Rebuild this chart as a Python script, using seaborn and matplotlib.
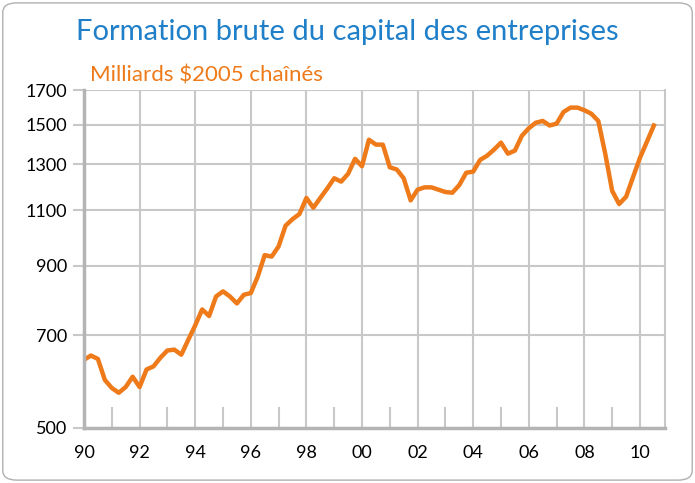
import numpy as np
import pandas as pd
import matplotlib
matplotlib.use("Agg")
import matplotlib.pyplot as plt
import seaborn as sns
from matplotlib.ticker import FixedLocator, NullFormatter, NullLocator
from matplotlib.patches import FancyBboxPatch

start_year = 1990.0
values = [640, 650, 642, 595, 578, 568, 580, 602, 580, 618, 625, 645,
          662, 664, 652, 688, 725, 768, 750, 805, 820, 805, 785, 810,
          815, 865, 935, 930, 965, 1040, 1065, 1085, 1150, 1110, 1150, 1190,
          1235, 1220, 1255, 1325, 1290, 1420, 1395, 1395, 1285, 1275, 1235, 1140,
          1185, 1195, 1195, 1185, 1175, 1172, 1205, 1260, 1265, 1320, 1340, 1370,
          1405, 1350, 1365, 1440, 1480, 1510, 1520, 1495, 1505, 1570, 1595, 1595,
          1580, 1560, 1520, 1350, 1180, 1125, 1155, 1240, 1330, 1410, 1495]
years = [start_year + 0.25 * i for i in range(len(values))]
y_ticks = [500, 700, 900, 1100, 1300, 1500, 1700]
x_ticks = [1990, 1992, 1994, 1996, 1998, 2000, 2002, 2004, 2006, 2008, 2010]
x_labels = ["90", "92", "94", "96", "98", "00", "02", "04", "06", "08", "10"]
minor_years = [1991, 1993, 1995, 1997, 1999, 2001, 2003, 2005, 2007, 2009]

df = pd.DataFrame({"year": years, "value": values})

plt.rcParams["font.family"] = "Lato"
fig = plt.figure(figsize=(6.95, 4.83), dpi=100)
border = FancyBboxPatch((0.004, 0.006), 0.992, 0.988, boxstyle="round,pad=0,rounding_size=0.02",
                        transform=fig.transFigure, facecolor="white", edgecolor="#b0b0b0", lw=1, zorder=-10)
fig.patches.append(border)
ax = fig.add_axes([84/695, 1-428/483, (665-84)/695, (428-90)/483])
ax.set_zorder(5)
ax.set_facecolor("white")
sns.lineplot(data=df, x="year", y="value", ax=ax, color="#ee7a1a", lw=3.2)
ax.set_yscale("log")
ax.set_ylim(500, 1700)
ax.set_xlim(1990, 2010.9)
ax.yaxis.set_major_locator(FixedLocator(y_ticks))
ax.yaxis.set_minor_locator(NullLocator())
ax.yaxis.set_minor_formatter(NullFormatter())
ax.set_yticklabels([str(t) for t in y_ticks])
ax.set_xticks(x_ticks)
ax.set_xticklabels(x_labels)
ax.set_xticks(minor_years, minor=True)
ax.grid(True, which="major", color="#c8c8c8", lw=1.5)
ax.tick_params(axis="y", which="major", length=8, color="#c8c8c8", width=1.5, labelsize=13, pad=4)
ax.tick_params(axis="x", which="major", length=0, labelsize=13, pad=12)
ax.tick_params(axis="x", which="minor", direction="in", length=15, color="#c8c8c8", width=1.5)
ax.spines["top"].set_visible(False)
ax.spines["right"].set_color("#c8c8c8"); ax.spines["right"].set_linewidth(1.5)
for s in ["left", "bottom"]:
    ax.spines[s].set_color("#b4b4b4"); ax.spines[s].set_linewidth(2.5)
ax.set_xlabel(""); ax.set_ylabel("")
fig.text(0.5, 1-32/483, "Formation brute du capital des entreprises", ha="center", va="center",
         fontsize=21, color="#1f7fc8")
fig.text(90/695, 1-76/483, "Milliards $2005 chaînés", ha="left", va="center", fontsize=16,
         color="#ee7a1a", zorder=10)
fig.savefig("out.png", dpi=100)
